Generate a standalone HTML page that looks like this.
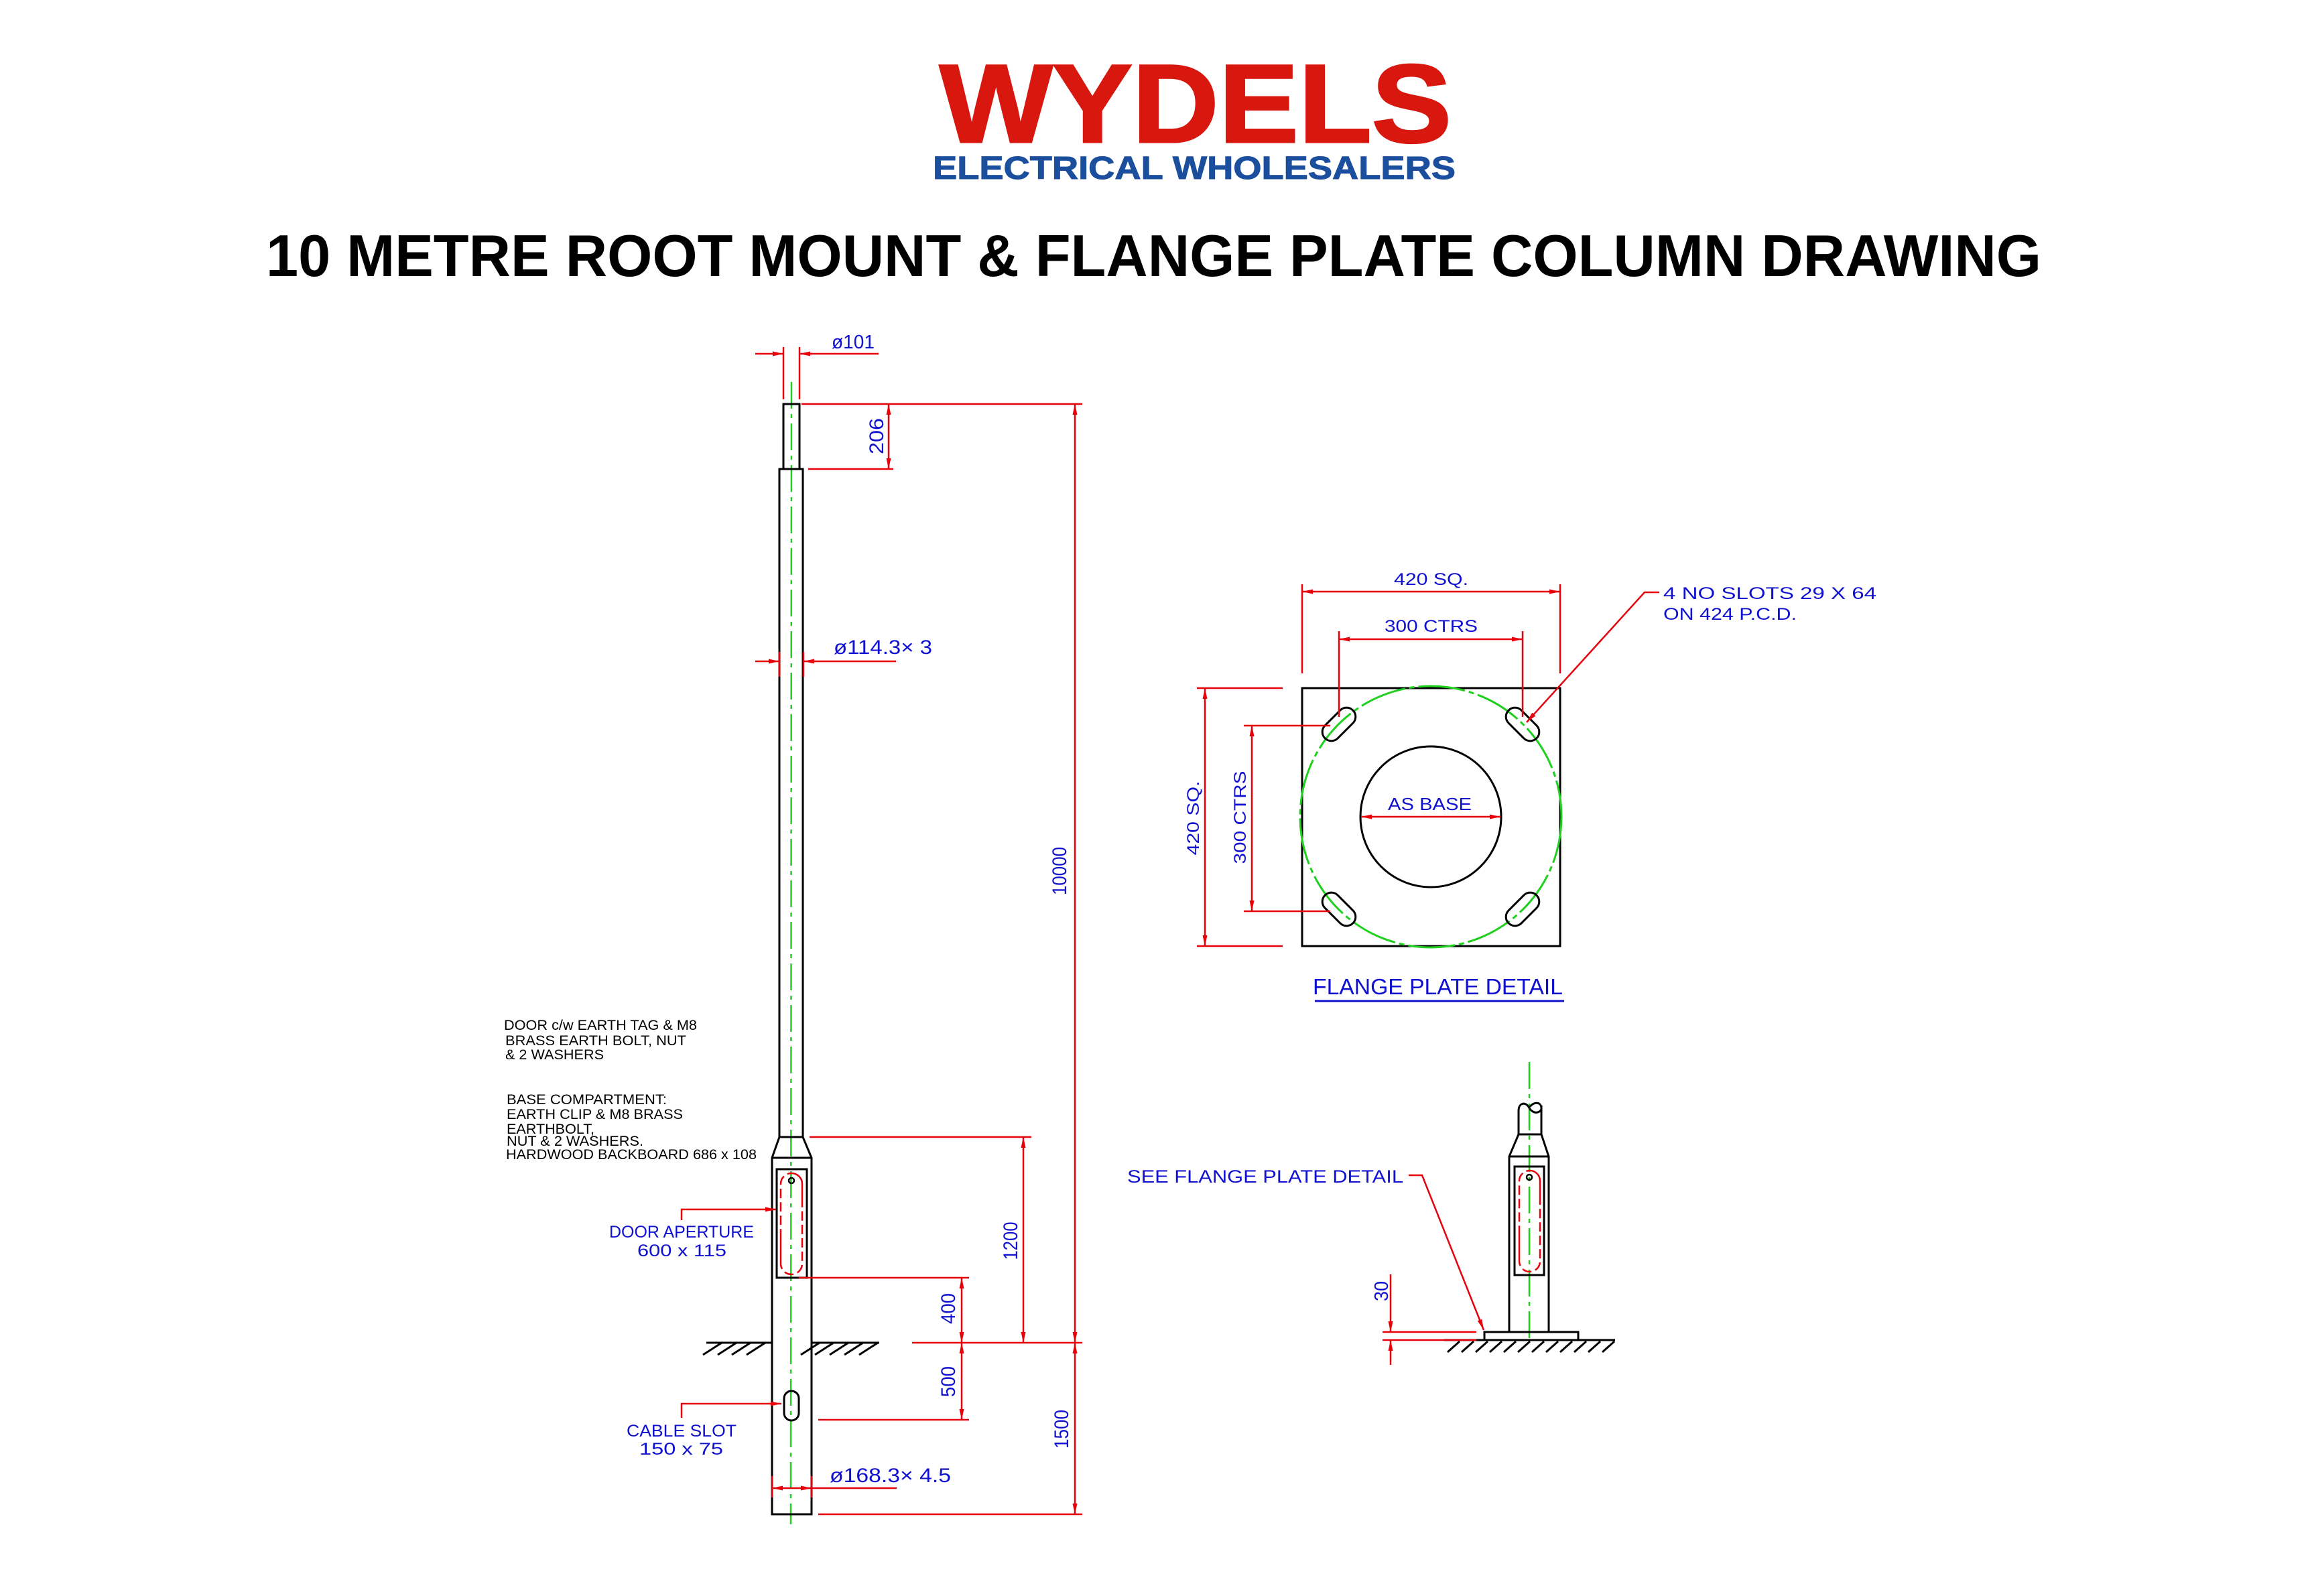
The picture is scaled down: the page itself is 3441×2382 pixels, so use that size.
<!DOCTYPE html>
<html><head><meta charset="utf-8"><style>
html,body{margin:0;padding:0;background:#fff;}
svg{display:block;}
.k{stroke:#000;stroke-width:3;fill:none;}
.r{stroke:#e8000a;stroke-width:2.5;fill:none;}
.g{stroke:#1fd01f;stroke-width:2.5;fill:none;stroke-dasharray:40 8 6 8;}
.gc{stroke:#1fd01f;stroke-width:3;fill:none;stroke-dasharray:70 6 8 6;}
.c{font-family:"Liberation Sans",sans-serif;fill:#1010d0;}
.n{font-family:"Liberation Sans",sans-serif;fill:#000;}
</style></head><body>
<svg width="3441" height="2382" viewBox="0 0 3441 2382" xmlns="http://www.w3.org/2000/svg">
<defs>
<marker id="a" viewBox="-1 -5 19 10" refX="16" refY="0" markerWidth="19" markerHeight="10" markerUnits="userSpaceOnUse" orient="auto-start-reverse">
<path d="M0,-3.5 L16,0 L0,3.5 z" fill="#e8000a"/></marker>
</defs>
<rect width="3441" height="2382" fill="#fff"/>

<!-- logo -->
<text x="1402" y="212" font-family="Liberation Sans,sans-serif" font-weight="bold" font-size="166" fill="#d8170f" stroke="#d8170f" stroke-width="3" textLength="764" lengthAdjust="spacingAndGlyphs">WYDELS</text>
<text x="1392" y="267" font-family="Liberation Sans,sans-serif" font-weight="bold" font-size="48" fill="#1b4f9e" stroke="#1b4f9e" stroke-width="1" textLength="780" lengthAdjust="spacingAndGlyphs">ELECTRICAL WHOLESALERS</text>
<text x="397" y="412" font-family="Liberation Sans,sans-serif" font-weight="bold" font-size="88" fill="#000" textLength="2649" lengthAdjust="spacingAndGlyphs">10 METRE ROOT MOUNT &amp; FLANGE PLATE COLUMN DRAWING</text>

<!-- main pole -->
<line class="g" x1="1181" y1="570" x2="1180" y2="2275"/>
<rect class="k" x="1169" y="603" width="24" height="97"/>
<path class="k" d="M1163,700 L1163,1697 L1152,1728 L1152,2260 L1211,2260 L1211,1728 L1198,1697 L1198,700 Z"/>
<line class="k" x1="1163" y1="1697" x2="1198" y2="1697"/>
<line class="k" x1="1152" y1="1728" x2="1211" y2="1728"/>
<rect class="k" x="1159" y="1745" width="45" height="162"/>
<rect x="1165" y="1751" width="32" height="151" rx="16" fill="none" stroke="#e8000a" stroke-width="2.5" stroke-dasharray="60 6 14 6 14 6 14 6 14 6 14 6 14 6 60 6 14 6 14 6 14 6 14 6 14 6 14 6"/>
<circle cx="1181" cy="1762" r="4" fill="none" stroke="#000" stroke-width="2.5"/>
<rect class="k" x="1170" y="2076" width="22" height="44" rx="11"/>
<!-- ground -->
<path class="k" d="M1054,2004 H1152 M1211,2004 H1312 M1077,2004 l-28,18 M1099,2004 l-28,18 M1120,2004 l-28,18 M1142,2004 l-28,18 M1223,2004 l-28,18 M1244,2004 l-28,18 M1266,2004 l-28,18 M1288,2004 l-28,18 M1310,2004 l-28,18"/>

<!-- dims main -->
<g class="r">
<line x1="1169" y1="518" x2="1169" y2="596"/><line x1="1193" y1="518" x2="1193" y2="596"/>
<line x1="1127" y1="528" x2="1169" y2="528" marker-end="url(#a)"/>
<line x1="1311" y1="528" x2="1193" y2="528" marker-end="url(#a)"/>
<line x1="1196" y1="603" x2="1615" y2="603"/>
<line x1="1206" y1="700" x2="1333" y2="700"/>
<line x1="1326" y1="603" x2="1326" y2="700" marker-start="url(#a)" marker-end="url(#a)"/>
<line x1="1163" y1="973" x2="1163" y2="1010"/><line x1="1199" y1="973" x2="1199" y2="1010"/>
<line x1="1127" y1="987" x2="1163" y2="987" marker-end="url(#a)"/>
<line x1="1337" y1="987" x2="1199" y2="987" marker-end="url(#a)"/>
<line x1="1604" y1="603" x2="1604" y2="2004" marker-start="url(#a)" marker-end="url(#a)"/>
<line x1="1208" y1="1697" x2="1539" y2="1697"/>
<line x1="1527" y1="1697" x2="1527" y2="2004" marker-start="url(#a)" marker-end="url(#a)"/>
<line x1="1192" y1="1907" x2="1446" y2="1907"/>
<line x1="1435" y1="1907" x2="1435" y2="2004" marker-start="url(#a)" marker-end="url(#a)"/>
<line x1="1361" y1="2004" x2="1615" y2="2004"/>
<line x1="1221" y1="2119" x2="1446" y2="2119"/>
<line x1="1435" y1="2004" x2="1435" y2="2119" marker-start="url(#a)" marker-end="url(#a)"/>
<line x1="1221" y1="2260" x2="1615" y2="2260"/>
<line x1="1604" y1="2004" x2="1604" y2="2260" marker-start="url(#a)" marker-end="url(#a)"/>
<line x1="1152" y1="2203" x2="1152" y2="2235"/><line x1="1211" y1="2203" x2="1211" y2="2235"/>
<line x1="1152" y1="2221" x2="1211" y2="2221" marker-start="url(#a)" marker-end="url(#a)"/>
<line x1="1211" y1="2221" x2="1338" y2="2221"/>
<polyline points="1017,1821 1017,1805 1158,1805" marker-end="url(#a)"/>
<polyline points="1017,2116 1017,2095 1166,2095" marker-end="url(#a)"/>
</g>
<text class="c" x="1241" y="520" font-size="29" textLength="64" lengthAdjust="spacingAndGlyphs">ø101</text>
<text class="c" x="1244" y="976" font-size="30" textLength="147" lengthAdjust="spacingAndGlyphs">ø114.3×  3</text>
<text class="c" x="1238" y="2212" font-size="30" textLength="181" lengthAdjust="spacingAndGlyphs">ø168.3×  4.5</text>
<g class="c" font-size="30" text-anchor="middle">
<text transform="translate(1318,651) rotate(-90)" textLength="54" lengthAdjust="spacingAndGlyphs">206</text>
<text transform="translate(1591,1300) rotate(-90)" textLength="72" lengthAdjust="spacingAndGlyphs">10000</text>
<text transform="translate(1518,1852) rotate(-90)" textLength="57" lengthAdjust="spacingAndGlyphs">1200</text>
<text transform="translate(1425,1953) rotate(-90)" textLength="46" lengthAdjust="spacingAndGlyphs">400</text>
<text transform="translate(1425,2062) rotate(-90)" textLength="46" lengthAdjust="spacingAndGlyphs">500</text>
<text transform="translate(1594,2133) rotate(-90)" textLength="58" lengthAdjust="spacingAndGlyphs">1500</text>
</g>
<g class="c" font-size="25">
<text x="909" y="1847" textLength="216" lengthAdjust="spacingAndGlyphs">DOOR  APERTURE</text>
<text x="951" y="1875" textLength="133" lengthAdjust="spacingAndGlyphs">600  x  115</text>
<text x="935" y="2144" textLength="164" lengthAdjust="spacingAndGlyphs">CABLE  SLOT</text>
<text x="954" y="2171" textLength="125" lengthAdjust="spacingAndGlyphs">150  x  75</text>
</g>
<g class="n" font-size="21">
<text x="752" y="1537" textLength="288" lengthAdjust="spacingAndGlyphs">DOOR c/w EARTH TAG &amp; M8</text>
<text x="754" y="1560" textLength="270" lengthAdjust="spacingAndGlyphs">BRASS EARTH BOLT, NUT</text>
<text x="754" y="1581" textLength="147" lengthAdjust="spacingAndGlyphs">&amp; 2 WASHERS</text>
<text x="756" y="1648" textLength="239" lengthAdjust="spacingAndGlyphs">BASE COMPARTMENT:</text>
<text x="756" y="1670" textLength="263" lengthAdjust="spacingAndGlyphs">EARTH CLIP &amp; M8 BRASS</text>
<text x="756" y="1692" textLength="131" lengthAdjust="spacingAndGlyphs">EARTHBOLT,</text>
<text x="756" y="1710" textLength="204" lengthAdjust="spacingAndGlyphs">NUT &amp; 2 WASHERS.</text>
<text x="755" y="1730" textLength="374" lengthAdjust="spacingAndGlyphs">HARDWOOD BACKBOARD 686 x 108</text>
</g>

<!-- flange plate -->
<rect class="k" x="1943" y="1027" width="385" height="385"/>
<circle class="gc" cx="2135" cy="1219" r="195"/>
<circle class="k" cx="2135" cy="1219" r="105"/>
<g class="k">
<rect x="-29.5" y="-13.5" width="59" height="27" rx="13.5" transform="translate(1998,1081) rotate(-45)"/>
<rect x="-29.5" y="-13.5" width="59" height="27" rx="13.5" transform="translate(2272,1081) rotate(45)"/>
<rect x="-29.5" y="-13.5" width="59" height="27" rx="13.5" transform="translate(1998,1357) rotate(45)"/>
<rect x="-29.5" y="-13.5" width="59" height="27" rx="13.5" transform="translate(2272,1357) rotate(-45)"/>
</g>
<g class="r">
<line x1="2031" y1="1219" x2="2239" y2="1219" marker-start="url(#a)" marker-end="url(#a)"/>
<line x1="1943" y1="872" x2="1943" y2="1005"/><line x1="2328" y1="872" x2="2328" y2="1005"/>
<line x1="1943" y1="883" x2="2328" y2="883" marker-start="url(#a)" marker-end="url(#a)"/>
<line x1="1998" y1="942" x2="1998" y2="1070"/><line x1="2272" y1="942" x2="2272" y2="1070"/>
<line x1="1998" y1="954" x2="2272" y2="954" marker-start="url(#a)" marker-end="url(#a)"/>
<line x1="1786" y1="1027" x2="1914" y2="1027"/><line x1="1786" y1="1412" x2="1914" y2="1412"/>
<line x1="1798" y1="1027" x2="1798" y2="1412" marker-start="url(#a)" marker-end="url(#a)"/>
<line x1="1856" y1="1083" x2="1985" y2="1083"/><line x1="1856" y1="1360" x2="1985" y2="1360"/>
<line x1="1868" y1="1083" x2="1868" y2="1360" marker-start="url(#a)" marker-end="url(#a)"/>
<polyline points="2476,884 2454,884 2278,1078" marker-end="url(#a)"/>
</g>
<g class="c" font-size="25">
<text x="2080" y="873" textLength="111" lengthAdjust="spacingAndGlyphs">420  SQ.</text>
<text x="2066" y="943" textLength="139" lengthAdjust="spacingAndGlyphs">300  CTRS</text>
<text x="2071" y="1209" font-size="26" textLength="125" lengthAdjust="spacingAndGlyphs">AS  BASE</text>
<text x="2482" y="894" textLength="318" lengthAdjust="spacingAndGlyphs">4  NO  SLOTS  29  X  64</text>
<text x="2482" y="925" textLength="199" lengthAdjust="spacingAndGlyphs">ON  424  P.C.D.</text>
<text transform="translate(1789,1221) rotate(-90)" text-anchor="middle" textLength="111" lengthAdjust="spacingAndGlyphs">420  SQ.</text>
<text transform="translate(1859,1220) rotate(-90)" text-anchor="middle" textLength="139" lengthAdjust="spacingAndGlyphs">300  CTRS</text>
<text x="1959" y="1484" font-size="33" textLength="373" lengthAdjust="spacingAndGlyphs">FLANGE  PLATE  DETAIL</text>
</g>
<line x1="1962" y1="1494" x2="2334" y2="1494" stroke="#1010d0" stroke-width="3"/>

<!-- side view -->
<line class="g" x1="2282" y1="1585" x2="2282" y2="2000"/>
<path class="k" d="M2266,1693 L2266,1658 C2266,1646 2276,1644 2281,1652 C2285,1660 2294,1664 2300,1656 M2300,1650 L2300,1693 M2283,1652 C2288,1644 2300,1644 2300,1654"/>
<path class="k" d="M2266,1693 H2300 L2311,1726 V1988 M2266,1693 L2252,1726 V1988 M2252,1726 H2311"/>
<rect class="k" x="2260" y="1741" width="44" height="162"/>
<rect x="2267" y="1747" width="31" height="151" rx="15.5" fill="none" stroke="#e8000a" stroke-width="2.5" stroke-dasharray="60 6 14 6 14 6 14 6 14 6 14 6 14 6 60 6 14 6 14 6 14 6 14 6 14 6 14 6"/>
<circle cx="2282" cy="1757" r="4" fill="none" stroke="#000" stroke-width="2.5"/>
<rect class="k" x="2215" y="1988" width="140" height="12"/>
<path class="k" d="M2155,2000 H2410 M2178,2002 l-18,16 M2199,2002 l-18,16 M2220,2002 l-18,16 M2241,2002 l-18,16 M2262,2002 l-18,16 M2283,2002 l-18,16 M2304,2002 l-18,16 M2325,2002 l-18,16 M2346,2002 l-18,16 M2367,2002 l-18,16 M2388,2002 l-18,16 M2409,2002 l-18,16"/>
<g class="r">
<line x1="2063" y1="1988" x2="2203" y2="1988"/>
<line x1="2063" y1="2000" x2="2203" y2="2000"/>
<line x1="2075" y1="1902" x2="2075" y2="1988" marker-end="url(#a)"/>
<line x1="2075" y1="2037" x2="2075" y2="2000" marker-end="url(#a)"/>
<polyline points="2102,1754 2122,1754 2214,1985" marker-end="url(#a)"/>
</g>
<text class="c" x="1682" y="1765" font-size="27" textLength="412" lengthAdjust="spacingAndGlyphs">SEE  FLANGE  PLATE  DETAIL</text>
<text class="c" transform="translate(2071,1927) rotate(-90)" text-anchor="middle" font-size="29" textLength="30" lengthAdjust="spacingAndGlyphs">30</text>
</svg>
</body></html>
